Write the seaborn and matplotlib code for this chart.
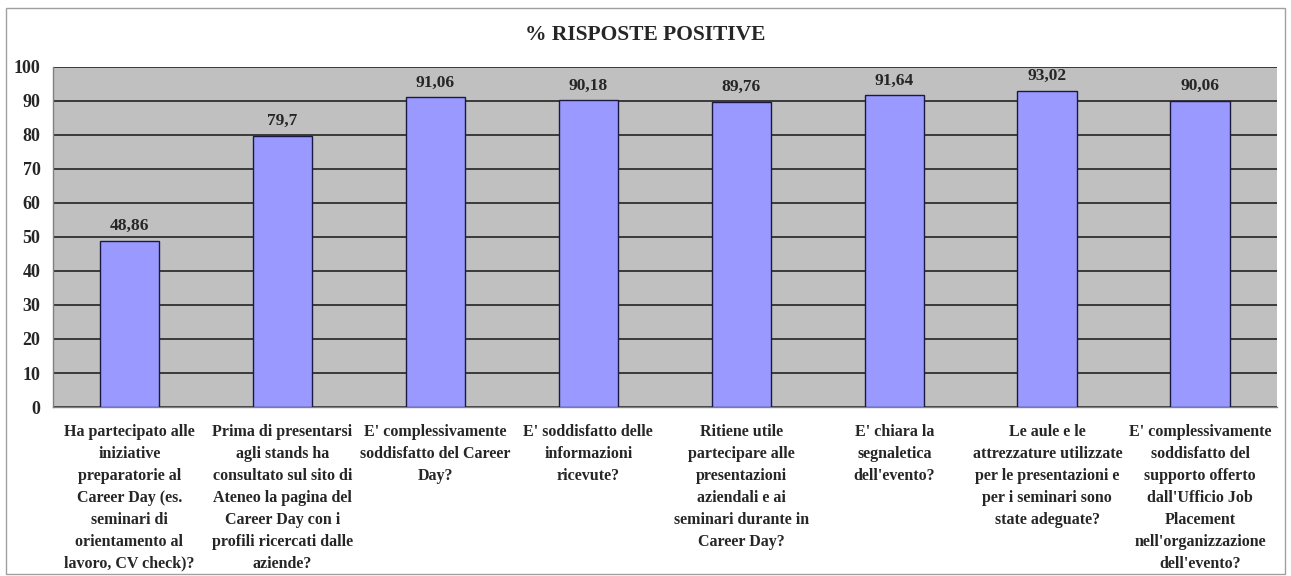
import matplotlib
matplotlib.use("Agg")
import matplotlib.pyplot as plt
import seaborn as sns
import pandas as pd
from matplotlib.patches import Rectangle
from matplotlib.ticker import MultipleLocator, FixedLocator

# data
questions = [
    "Ha partecipato alle\niniziative\npreparatorie al\nCareer Day (es.\nseminari di\norientamento al\nlavoro, CV check)?",
    "Prima di presentarsi\nagli stands ha\nconsultato sul sito di\nAteneo la pagina del\nCareer Day con i\nprofili ricercati dalle\naziende?",
    "E' complessivamente\nsoddisfatto del Career\nDay?",
    "E' soddisfatto delle\ninformazioni\nricevute?",
    "Ritiene utile\npartecipare alle\npresentazioni\naziendali e ai\nseminari durante in\nCareer Day?",
    "E' chiara la\nsegnaletica\ndell'evento?",
    "Le aule e le\nattrezzature utilizzate\nper le presentazioni e\nper i seminari sono\nstate adeguate?",
    "E' complessivamente\nsoddisfatto del\nsupporto offerto\ndall'Ufficio Job\nPlacement\nnell'organizzazione\ndell'evento?",
]
positive_pct = [48.86, 79.7, 91.06, 90.18, 89.76, 91.64, 93.02, 90.06]
title = "% RISPOSTE POSITIVE"

df = pd.DataFrame({"question": questions, "pct": positive_pct})

sns.set_style("white")
plt.rcParams["font.family"] = ["Liberation Serif", "DejaVu Serif"]
plt.rcParams["font.weight"] = "bold"

fig = plt.figure(figsize=(12.91, 5.76), dpi=100)
ax = fig.add_axes([0.041, 0.2934, 0.948, 0.5903])

sns.barplot(data=df, x="question", y="pct", color="#9999FF", saturation=1,
            width=0.39, edgecolor="#1a1a40", linewidth=1.0, ax=ax, zorder=3)

ax.set_facecolor("#C0C0C0")
ax.set_ylim(0, 100)
ax.set_xlim(-0.5, len(questions) - 0.5)
ax.yaxis.set_major_locator(MultipleLocator(10))
ax.grid(axis="y", color="#3a3a3a", linewidth=1.4, zorder=1)
ax.set_axisbelow(True)

for side in ["top", "right"]:
    ax.spines[side].set_visible(False)
for side in ["left", "bottom"]:
    ax.spines[side].set_color("#808080")
    ax.spines[side].set_linewidth(1.0)

ax.set_xlabel("")
ax.set_ylabel("")
ax.tick_params(axis="y", length=5, width=0.8, color="#808080", labelsize=13, pad=4)
ax.tick_params(axis="x", which="major", length=0, labelsize=11.5, pad=12)
ax.xaxis.set_minor_locator(FixedLocator([i - 0.5 for i in range(len(questions) + 1)]))
ax.tick_params(axis="x", which="minor", length=5, width=0.8, color="#808080")
for lab in ax.get_xticklabels():
    lab.set_fontweight("bold")
    lab.set_linespacing(1.5)
for lab in ax.get_yticklabels():
    lab.set_fontweight("bold")

labels = [f"{v:g}".replace(".", ",") for v in positive_pct]
ax.bar_label(ax.containers[0], labels=labels, padding=5, fontsize=12.5,
             fontweight="bold", zorder=4)

fig.text(0.5, 0.94, title, ha="center", va="center", fontsize=15.5,
         fontweight="bold")

# outer chart frame
fig.patches.append(Rectangle((0.005, 0.004), 0.99, 0.982, transform=fig.transFigure,
                             fill=False, edgecolor="#a0a0a0", linewidth=1.0))

fig.savefig("out.png", dpi=100)
